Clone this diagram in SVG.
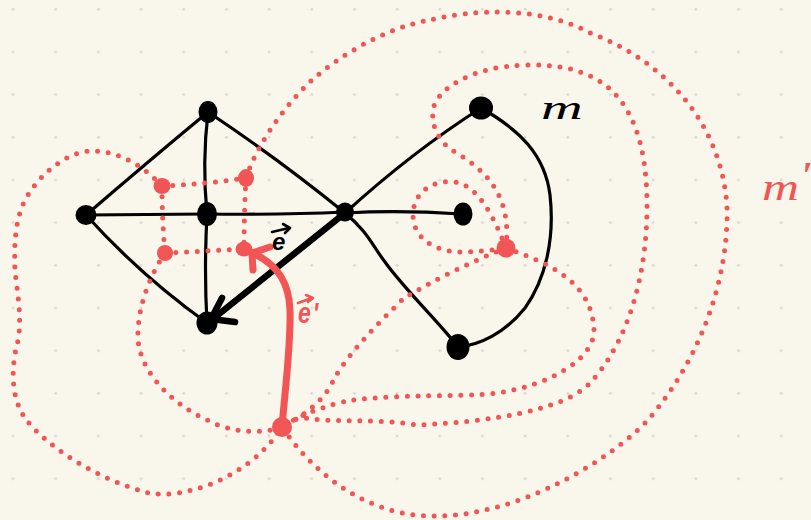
<svg xmlns="http://www.w3.org/2000/svg" width="811" height="520" viewBox="0 0 811 520">
<defs>
<pattern id="grid" x="0" y="0" width="42.68" height="42.68" patternUnits="userSpaceOnUse">
<circle cx="13" cy="9.3" r="1.4" fill="#d6d6d4"/>
</pattern>
<style>
.edge{fill:none;stroke:#000;stroke-width:3.2;stroke-linecap:round;stroke-linejoin:round}
.thick{fill:none;stroke:#000;stroke-width:6.5;stroke-linecap:round;stroke-linejoin:round}
.dual{fill:none;stroke:#f25555;stroke-width:5;stroke-linecap:round;stroke-dasharray:0 10.7}
.dualsolid{fill:none;stroke:#f25555;stroke-width:7;stroke-linecap:round;stroke-linejoin:round}
.vtx{fill:#000}
.dvtx{fill:#f25555}
.lbl{font-family:"Liberation Sans",Arial,sans-serif;font-style:italic;font-weight:bold}
.mlbl{font-family:"Liberation Serif","Times New Roman",serif;font-style:italic}
.arr{fill:none;stroke-width:2.6;stroke-linecap:round;stroke-linejoin:round}
</style>
</defs>
<rect width="811" height="520" fill="#f9f7eb"/>
<rect width="811" height="520" fill="url(#grid)"/>

<g id="connectors">
<!-- primal map m -->
<path class="edge" d="M208,112 Q150,160 86,215"/>
<path class="edge" d="M208,112 Q202,163 207,214"/>
<path class="edge" d="M208,112 Q280,160 345,213"/>
<path class="edge" d="M86,215 L207,214 Q280,215 345,212"/>
<path class="edge" d="M207,214 Q204,270 207,323"/>
<path class="edge" d="M86,215 Q140,275 207,323"/>
<path class="edge" d="M345,213 Q400,210 461,214"/>
<path class="edge" d="M345,213 Q412,152 481,108"/>
<path class="edge" d="M345,213 C368,232 372,245 385,262 C405,290 440,323 458,347"/>
<path class="edge" d="M481,108 C520,130 545,155 550,195 C555,240 545,280 525,308 C505,333 480,345 458,347"/>
<path class="thick" d="M345,213 L214,318"/>
<path class="thick" d="M222,298 L211,319 L235,322"/>

<!-- dual map m' -->
<path class="dual" d="M162,186 Q205,184 246,178"/>
<path class="dual" d="M162,186 Q162,220 165,253"/>
<path class="dual" d="M246,178 Q244,215 244,249"/>
<path class="dual" d="M165,253 Q205,251 244,249"/>
<path class="dual" d="M162,186 C140,162 115,151 91,151 C70,151 40,172 25,200 C15,220 14,245 15,270 C17,292 23,320 17,345 C11,368 11,398 25,418 C45,445 95,478 142,491 C170,502 245,485 282,427"/>
<path class="dual" d="M165,253 C152,272 137,305 138,338 C139,370 170,403 207,420 C230,432 260,435 282,427"/>
<path class="dual" d="M246,178 C255,150 280,110 311,81 C340,55 385,28 430,20 C470,10 540,5 590,33 C650,55 720,110 727,206 C729,280 700,360 647,421 C615,455 525,515 437,516 C385,518 325,490 282,427"/>
<path class="dual" d="M506,248 C497,225 480,185 455,182 C430,179 413,195 413,215 C413,238 435,252 460,252 C478,252 495,250 506,248"/>
<path class="dual" d="M506,248 C510,210 500,178 455,152 C440,143 431,128 433,110 C436,90 470,66 527,65 C590,64 645,85 647,200 C648,270 630,340 590,383 C565,410 490,422 417,425 C375,418 330,423 305,418 Q292,418 282,427"/>
<path class="dual" d="M506,248 C545,262 592,280 594,330 C595,358 550,386 496,393 C460,398 400,393 347,401 C330,405 305,412 282,427"/>
<path class="dual" d="M506,248 C470,262 430,282 403,299 C390,312 350,350 334,379 C325,400 305,415 282,427"/>
<path class="dualsolid" d="M282,427 C285,390 291,345 290,310 C289,285 280,266 253,253"/>
<path class="dualsolid" d="M253,270 L252,253 L270,247"/>
</g>

<g id="node-A"><ellipse class="vtx" cx="208" cy="112" rx="9.5" ry="11"/></g>
<g id="node-B"><ellipse class="vtx" cx="86" cy="215" rx="10.5" ry="10"/></g>
<g id="node-C"><ellipse class="vtx" cx="207" cy="214" rx="10" ry="12"/></g>
<g id="node-D"><ellipse class="vtx" cx="207" cy="323" rx="10.5" ry="11.5"/></g>
<g id="node-E"><ellipse class="vtx" cx="345" cy="212" rx="9" ry="9.5"/></g>
<g id="node-F"><ellipse class="vtx" cx="463" cy="214" rx="9.5" ry="11.5"/></g>
<g id="node-G"><ellipse class="vtx" cx="481" cy="108" rx="12" ry="11.5"/></g>
<g id="node-H"><ellipse class="vtx" cx="458" cy="347" rx="11.5" ry="13"/></g>

<g id="dual-1"><ellipse class="dvtx" cx="162" cy="186" rx="8.5" ry="8"/></g>
<g id="dual-2"><ellipse class="dvtx" cx="246" cy="178" rx="8" ry="9"/></g>
<g id="dual-3"><ellipse class="dvtx" cx="165" cy="253" rx="8" ry="8"/></g>
<g id="dual-4"><ellipse class="dvtx" cx="244" cy="249" rx="8.5" ry="7.5"/></g>
<g id="dual-5"><circle class="dvtx" cx="506" cy="248" r="9.5"/></g>
<g id="dual-6"><circle class="dvtx" cx="282" cy="427" r="10"/></g>

<g id="label-e">
<text class="lbl" x="272" y="250" font-size="24" fill="#000">e</text>
<path class="arr" stroke="#000" d="M272,232 L289,228 M283,224 L290,228 L285,233"/>
</g>
<g id="label-e-prime">
<text class="lbl" transform="translate(298,323) scale(1,1.3)" font-size="23" fill="#f25555">e<tspan dx="2">'</tspan></text>
<path class="arr" stroke="#f25555" d="M298,303 L312,298 M306,295 L313,298 L308,302"/>
</g>
<g id="label-m">
<text class="mlbl" transform="translate(541,119) scale(1.7,1)" font-size="34" fill="#000">m</text>
</g>
<g id="label-m-prime">
<text class="mlbl" transform="translate(762,200) scale(1.35,1)" font-size="38" fill="#f25555">m<tspan dx="0" dy="-12">'</tspan></text>
</g>
</svg>
